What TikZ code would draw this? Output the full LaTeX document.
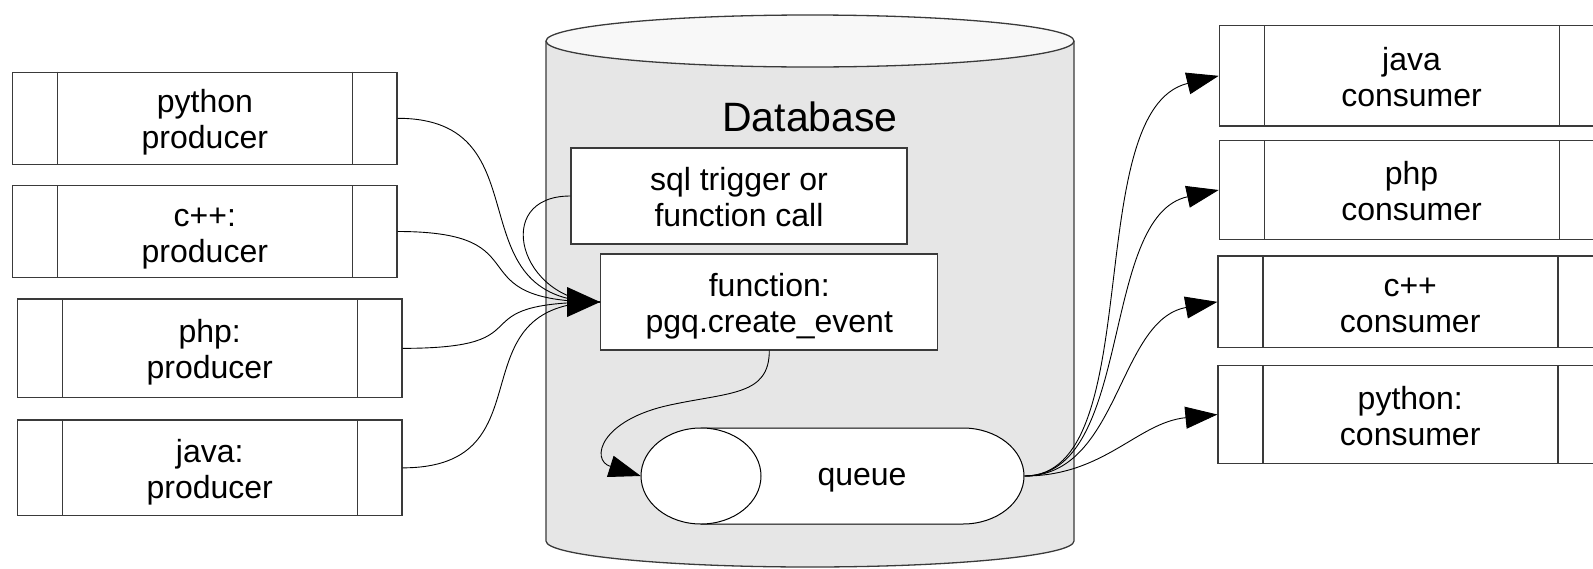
\documentclass[tikz,border=0pt]{standalone}
\usepackage{fontspec}
\setmainfont{Liberation Sans}
\usetikzlibrary{arrows.meta,calc}
\definecolor{dbbody}{HTML}{E6E6E6}
\definecolor{dbtop}{HTML}{F8F8F8}
\definecolor{edgegray}{HTML}{3A3A3A}
% two centred lines with fixed line metrics
\newcommand\twolines[2]{\rule{0pt}{32pt}#1\\#2\rule[-7pt]{0pt}{7pt}}
\begin{document}
\begin{tikzpicture}[x=1pt,y=-1pt,
  box/.style={draw=edgegray, line width=1.3pt, fill=white, inner sep=0pt,
    align=center, font=\fontsize{32}{36}\selectfont},
  slot/.style={box, minimum width=384.3pt},
  divider/.style={draw=edgegray, line width=1.3pt},
  link/.style={line width=0.9pt, black},
  tip/.style={-{Triangle[length=32pt,width=22pt]}},
  outline/.style={draw=edgegray, line width=1.3pt},
]
\useasboundingbox (0,0) rectangle (1593,568);
\clip (0,0) rectangle (1593,568);
\fill[white] (0,0) rectangle (1593,568);

% database cylinder
\fill[dbbody] (546,41) -- (546,541)
  arc[start angle=180, end angle=0, x radius=264, y radius=26] -- (1074,41) -- cycle;
\draw[outline] (546,41) -- (546,541)
  arc[start angle=180, end angle=0, x radius=264, y radius=26] -- (1074,41);
\draw[outline, fill=dbtop] (810,41) ellipse[x radius=264, y radius=26];
\node[font=\fontsize{41}{45}\selectfont, anchor=base] (db) at (810,131) {Database};

% boxes inside the database
\node[box, minimum width=336pt, minimum height=96pt] (sql) at (739,196)
  {\twolines{sql trigger or}{function call}};
\node[box, minimum width=337pt, minimum height=96pt] (fn) at (769.3,302)
  {\twolines{function:}{pgq.create\_event}};

% queue drawn as a horizontal cylinder
\draw[line width=1pt, fill=white] (701,428) -- (963,428)
  arc[start angle=-90, end angle=90, x radius=61, y radius=48] -- (701,524) -- cycle;
\draw[line width=1pt, fill=white] (701,476) ellipse[x radius=60, y radius=48];
\node[inner sep=0pt, minimum width=383.3pt, minimum height=96pt] (queue) at (832.65,476) {};
\node[font=\fontsize{32}{36}\selectfont] (qtext) at (862,480) {queue};

% producers
\node[slot, minimum height=92pt]   (p1) at (204.85,118.3)  {\twolines{python}{producer}};
\node[slot, minimum height=91.6pt] (p2) at (204.85,231.5)  {\twolines{c++:}{producer}};
\node[slot, minimum height=98.7pt] (p3) at (209.7,348.35)  {\twolines{php:}{producer}};
\node[slot, minimum height=95.7pt] (p4) at (209.7,467.85)  {\twolines{java:}{producer}};

% consumers
\node[slot, minimum height=100.3pt] (c1) at (1411.5,75.85)  {\twolines{java}{consumer}};
\node[slot, minimum height=98.6pt]  (c2) at (1411.5,190)    {\twolines{php}{consumer}};
\node[slot, minimum height=91.7pt]  (c3) at (1410.2,301.85) {\twolines{c++}{consumer}};
\node[slot, minimum height=97.6pt]  (c4) at (1410.2,414.5)  {\twolines{python:}{consumer}};

\foreach \n in {p1,p2,p3,p4,c1,c2,c3,c4}
  \draw[divider] ([xshift=45.5pt]\n.north west) -- ([xshift=45.5pt]\n.south west)
                 ([xshift=-45pt]\n.north east) -- ([xshift=-45pt]\n.south east);

% producers and trigger feed the event function
\foreach \n in {p1,p2,p3,p4}
  \draw[link] (\n.east) .. controls +(150,0) and +(-150,0) .. (fn.west);
\draw[link] (sql.west) .. controls +(-80,0) and +(-80,0) .. (fn.west);
\fill (fn.west) -- ++(-33,-15) -- ++(0,30) -- cycle;

% event function writes to the queue
\draw[link, tip] (fn.south) .. controls +(0,45) and (730,392) .. (670,405)
  .. controls (600,420) and (590,460) .. (queue.west);

% queue feeds the consumers
\draw[link, tip] (queue.east) .. controls +(125,0) and +(-140,34) .. (c1.west);
\draw[link, tip] (queue.east) .. controls +(110,0) and +(-120,26) .. (c2.west);
\draw[link, tip] (queue.east) .. controls +(95,0) and +(-100,18) .. (c3.west);
\draw[link, tip] (queue.east) .. controls +(80,0) and +(-80,8) .. (c4.west);
\end{tikzpicture}
\end{document}
